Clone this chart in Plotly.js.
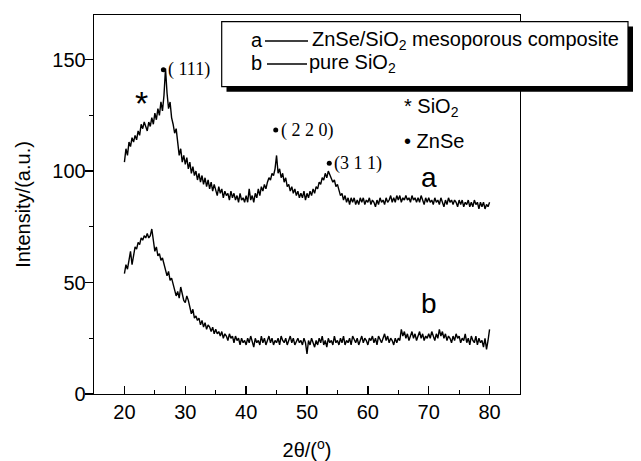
<!DOCTYPE html>
<html><head><meta charset="utf-8">
<script src="https://cdn.plot.ly/plotly-3.0.1.min.js"></script>
<style>html,body{margin:0;padding:0;background:#fff}</style>
</head><body><div id="chart" style="width:641px;height:461px"></div>
<script>
// 2theta grid: start and step (x0/dx of the traces)
const thetaStart = 20;
const thetaStep = 0.25;

// a: ZnSe/SiO2 mesoporous composite (20.0 .. 80.0, step 0.25)
const seriesA = [
  104,110,107,113,111,115,113,116,114,118,116,121,119,122,120,118,122,120,124,121,
  126,123,128,125,131,127,134,146,135,128,131,124,121,117,119,112,107,110,104,107,
  103,106,101,104,99,102,98,100,96,99,95,98,94,97,93,96,92,95,91,94,
  92,89,93,90,92,88,91,89,90,87,91,88,90,87,89,86,90,87,88,86,
  89,86,92,87,89,86,90,88,92,89,93,91,94,92,95,97,96,99,98,101,
  107,99,101,97,99,95,97,93,94,91,93,90,92,89,91,88,90,88,91,87,
  90,88,91,89,92,90,93,92,95,94,97,96,99,97,100,98,97,95,96,93,
  94,91,89,90,87,89,86,88,85,88,86,88,85,87,85,88,86,88,85,87,
  86,88,85,87,86,84,87,85,88,86,87,85,88,86,87,89,86,88,86,89,
  87,89,86,88,87,89,87,88,86,89,87,88,86,88,86,89,87,85,88,86,
  88,86,87,85,88,86,87,85,88,86,84,87,85,88,86,87,85,87,86,84,
  87,85,87,84,86,85,87,84,86,84,87,85,86,83,86,84,86,83,85,84,
  86
];

// b: pure SiO2 (20.0 .. 80.0, step 0.25)
const seriesB = [
  54,58,56,61,64,58,63,66,65,68,67,70,69,71,70,72,70,71,74,69,
  64,66,62,63,60,61,58,56,53,55,51,52,49,47,44,46,43,48,45,42,
  41,44,42,39,36,38,34,35,33,34,31,33,30,32,29,31,30,28,30,27,
  29,27,28,26,28,25,27,26,24,27,25,26,23,26,24,25,22,25,23,24,
  22,25,23,26,24,21,25,23,24,22,26,23,25,22,24,26,23,25,22,24,
  23,25,22,26,24,23,25,22,24,26,23,25,22,24,25,23,24,22,25,23,
  18,24,22,25,23,21,24,22,25,23,26,22,24,21,25,23,24,22,26,23,
  24,22,25,23,26,22,24,23,25,22,26,24,23,25,22,24,26,23,25,24,
  22,25,24,26,23,25,22,26,24,23,25,27,24,26,23,25,24,22,25,23,
  25,24,29,26,28,25,27,24,26,28,25,27,24,26,28,25,27,24,26,25,
  27,25,28,26,24,27,25,29,26,28,25,27,24,26,25,23,26,24,27,25,
  26,23,25,24,27,23,25,22,26,24,23,26,22,25,23,24,21,25,20,24,
  29
];

// ZnSe reflections
const peakX = [26.4, 44.86, 53.66];
const peakY = [145.4, 118.4, 103.5];
const peakLabels = ['( 111)', '( 2 2 0)', '(3 1 1)'];

// SiO2 marker
const starX = [22.84];
const starY = [130.5];

// curve labels
const curveLabels = ['a', 'b'];
const curveLabelX = [70, 70];
const curveLabelY = [96.9, 40.8];

// key text
const keyLabels = ['* SiO<sub>2</sub>', '\u2022 ZnSe'];
const keyX = [65.6, 65.6];
const keyY = [128.3, 113.5];

// legend box entries
const legendLetters = ['a', 'b'];
const legendNames = ['ZnSe/SiO<sub>2</sub> mesoporous composite', 'pure SiO<sub>2</sub>'];

const xTickVals = [20, 30, 40, 50, 60, 70, 80];
const yTickVals = [0, 50, 100, 150];

// plot-area pixel geometry helpers (for the boxed legend outside the axes)
const L = 94, R = 520, T = 15, B = 394;
const px = x => (x - L) / (R - L);
const py = y => (B - y) / (B - T);

const sans = 'Liberation Sans, Arial, sans-serif';
const serif = 'Liberation Serif, Times New Roman, serif';

const traces = [
  {type: 'scatter', mode: 'lines', x0: thetaStart, dx: thetaStep, y: seriesA,
   line: {color: '#000', width: 1.4}, hoverinfo: 'skip'},
  {type: 'scatter', mode: 'lines', x0: thetaStart, dx: thetaStep, y: seriesB,
   line: {color: '#000', width: 1.4}, hoverinfo: 'skip'},
  {type: 'scatter', mode: 'markers', x: peakX, y: peakY,
   marker: {color: '#000', size: 5}, hoverinfo: 'skip'}
];

const annotations = [];
peakLabels.forEach((t, i) => annotations.push({
  x: peakX[i], y: peakY[i], xref: 'x', yref: 'y', text: t, showarrow: false,
  xanchor: 'left', yanchor: 'middle', xshift: 3, yshift: 0,
  font: {family: serif, size: 18, color: '#000'}
}));
annotations.push({x: starX[0], y: starY[0], xref: 'x', yref: 'y', text: '*', showarrow: false,
  xanchor: 'center', yanchor: 'middle', font: {family: sans, size: 34, color: '#000'}});
curveLabels.forEach((t, i) => annotations.push({
  x: curveLabelX[i], y: curveLabelY[i], xref: 'x', yref: 'y', text: t, showarrow: false,
  xanchor: 'center', yanchor: 'middle', font: {family: sans, size: 28, color: '#000'}
}));
keyLabels.forEach((t, i) => annotations.push({
  x: keyX[i], y: keyY[i], xref: 'x', yref: 'y', text: t, showarrow: false,
  xanchor: 'left', yanchor: 'middle', font: {family: sans, size: 20, color: '#000'}
}));
const rowY = [40, 63];
legendLetters.forEach((t, i) => {
  annotations.push({x: px(249), y: py(rowY[i]), xref: 'paper', yref: 'paper', text: t,
    showarrow: false, xanchor: 'left', yanchor: 'middle',
    font: {family: sans, size: 20, color: '#000'}});
  annotations.push({x: px(i === 0 ? 310 : 307), y: py(rowY[i]), xref: 'paper', yref: 'paper',
    text: legendNames[i], showarrow: false, xanchor: 'left', yanchor: 'middle',
    font: {family: sans, size: 20, color: '#000'}});
});

const shapes = [
  {type: 'rect', xref: 'paper', yref: 'paper', x0: px(226.5), x1: px(633), y0: py(26.5), y1: py(91.7),
   fillcolor: '#000', line: {width: 0}, layer: 'above'},
  {type: 'rect', xref: 'paper', yref: 'paper', x0: px(221.7), x1: px(628), y0: py(21.7), y1: py(86.7),
   fillcolor: '#fff', line: {color: '#000', width: 1.2}, layer: 'above'},
  {type: 'line', xref: 'paper', yref: 'paper', x0: px(265), x1: px(308), y0: py(41), y1: py(41),
   line: {color: '#000', width: 1.3}, layer: 'above'},
  {type: 'line', xref: 'paper', yref: 'paper', x0: px(267), x1: px(307), y0: py(64), y1: py(64),
   line: {color: '#000', width: 1.3}, layer: 'above'}
];

const layout = {
  width: 641, height: 461,
  margin: {l: L, r: 641 - R, t: T, b: 461 - B, pad: 0},
  paper_bgcolor: '#fff', plot_bgcolor: '#fff',
  showlegend: false,
  font: {family: sans, size: 20, color: '#000'},
  xaxis: {
    range: [15, 85], tickvals: xTickVals, ticks: 'inside', ticklen: 8, tickwidth: 1.3,
    tickcolor: '#000', showline: true, mirror: true, linecolor: '#000', linewidth: 1.3,
    showgrid: false, zeroline: false, tickfont: {family: sans, size: 20},
    minor: {dtick: 5, tick0: 0, ticks: 'inside', ticklen: 4, tickwidth: 1.2, tickcolor: '#000', showgrid: false},
    title: {text: '2\u03b8/(<sup>o</sup>)', font: {family: sans, size: 20}, standoff: 22}
  },
  yaxis: {
    range: [0, 170], tickvals: yTickVals, ticks: 'outside', ticklen: 8, tickwidth: 1.3,
    tickcolor: '#000', showline: true, mirror: true, linecolor: '#000', linewidth: 1.3,
    showgrid: false, zeroline: false, tickfont: {family: sans, size: 20},
    ticklabelstandoff: -5,
    minor: {dtick: 25, tick0: 0, ticks: 'outside', ticklen: 4, tickwidth: 1.2, tickcolor: '#000', showgrid: false},
    title: {text: 'Intensity/(a.u.)', font: {family: sans, size: 20}, standoff: 16}
  },
  annotations: annotations,
  shapes: shapes
};

Plotly.newPlot('chart', traces, layout, {displayModeBar: false, staticPlot: true});
</script>
</body></html>
